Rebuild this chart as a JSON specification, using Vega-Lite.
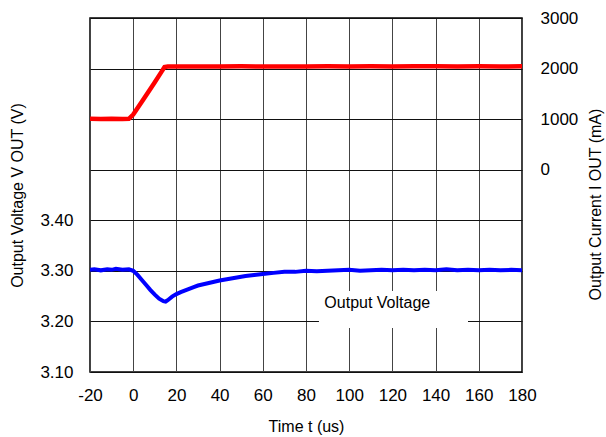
{
  "$schema": "https://vega.github.io/schema/vega-lite/v6.json",
  "width": 432,
  "height": 354,
  "autosize": "none",
  "padding": {"left": 90, "top": 18, "right": 84, "bottom": 65},
  "background": "white",
  "config": {
    "font": "Liberation Sans",
    "view": {"stroke": "#000", "strokeWidth": 1.5},
    "axis": {"labelColor": "#000", "titleColor": "#000", "labelFontSize": 17, "titleFontSize": 16, "titleFontWeight": "normal", "domain": false, "ticks": false, "gridColor": "#111", "gridOpacity": 1, "gridWidth": 1, "labelFlush": false, "labelOverlap": false}
  },
  "datasets": {
    "voltage": [
      {"t": -20, "v": 3.302}, {"t": -18, "v": 3.303}, {"t": -15, "v": 3.301}, {"t": -12, "v": 3.303},
      {"t": -10, "v": 3.302}, {"t": -8, "v": 3.304}, {"t": -5, "v": 3.302}, {"t": -2, "v": 3.303},
      {"t": 0, "v": 3.300}, {"t": 2, "v": 3.292}, {"t": 4, "v": 3.282}, {"t": 6, "v": 3.272},
      {"t": 8, "v": 3.262}, {"t": 10, "v": 3.253}, {"t": 12, "v": 3.245}, {"t": 14, "v": 3.240},
      {"t": 15, "v": 3.239}, {"t": 16, "v": 3.242}, {"t": 18, "v": 3.249}, {"t": 20, "v": 3.254},
      {"t": 22, "v": 3.258}, {"t": 25, "v": 3.263}, {"t": 28, "v": 3.268}, {"t": 30, "v": 3.271},
      {"t": 33, "v": 3.274}, {"t": 36, "v": 3.277}, {"t": 40, "v": 3.281}, {"t": 44, "v": 3.284},
      {"t": 48, "v": 3.287}, {"t": 52, "v": 3.290}, {"t": 56, "v": 3.292}, {"t": 60, "v": 3.294},
      {"t": 65, "v": 3.296}, {"t": 70, "v": 3.298}, {"t": 75, "v": 3.298}, {"t": 80, "v": 3.300},
      {"t": 85, "v": 3.299}, {"t": 90, "v": 3.300}, {"t": 95, "v": 3.301}, {"t": 100, "v": 3.302},
      {"t": 105, "v": 3.300}, {"t": 110, "v": 3.301}, {"t": 115, "v": 3.302}, {"t": 120, "v": 3.301},
      {"t": 125, "v": 3.302}, {"t": 130, "v": 3.301}, {"t": 135, "v": 3.302}, {"t": 140, "v": 3.301},
      {"t": 145, "v": 3.303}, {"t": 150, "v": 3.301}, {"t": 155, "v": 3.302}, {"t": 160, "v": 3.301},
      {"t": 165, "v": 3.302}, {"t": 170, "v": 3.301}, {"t": 175, "v": 3.302}, {"t": 180, "v": 3.301}
    ],
    "current": [
      {"t": -20, "i": 1010}, {"t": -15, "i": 1005}, {"t": -10, "i": 1008}, {"t": -5, "i": 1004},
      {"t": -2, "i": 1006}, {"t": 0, "i": 1090}, {"t": 5, "i": 1410}, {"t": 10, "i": 1730},
      {"t": 13, "i": 1930}, {"t": 14.5, "i": 2030}, {"t": 16, "i": 2042}, {"t": 20, "i": 2040},
      {"t": 30, "i": 2043}, {"t": 40, "i": 2041}, {"t": 50, "i": 2044}, {"t": 60, "i": 2042},
      {"t": 70, "i": 2043}, {"t": 80, "i": 2041}, {"t": 90, "i": 2044}, {"t": 100, "i": 2042},
      {"t": 110, "i": 2045}, {"t": 120, "i": 2043}, {"t": 130, "i": 2044}, {"t": 140, "i": 2046},
      {"t": 150, "i": 2043}, {"t": 160, "i": 2044}, {"t": 170, "i": 2042}, {"t": 180, "i": 2044}
    ],
    "note": [{"label": "Output Voltage"}]
  },
  "resolve": {"scale": {"y": "independent"}},
  "layer": [
    {
      "layer": [
        {
          "data": {"name": "voltage"},
          "mark": {"type": "line", "color": "#0000ff", "strokeWidth": 4, "clip": true},
          "encoding": {
            "x": {"field": "t", "type": "quantitative", "scale": {"domain": [-20, 180], "nice": false},
              "axis": {"orient": "bottom", "values": [-20, 0, 20, 40, 60, 80, 100, 120, 140, 160, 180], "labelExpr": "datum.value < 0 ? '-' + abs(datum.value) : '' + datum.value", "grid": true, "gridColor": "#444", "title": "Time t (us)", "labelPadding": 15, "titlePadding": 15}},
            "y": {"field": "v", "type": "quantitative", "scale": {"domain": [3.1, 3.8], "nice": false, "zero": false},
              "axis": {"orient": "left", "values": [3.1, 3.2, 3.3, 3.4], "format": ".2f", "grid": false, "title": "Output Voltage V  OUT (V)", "labelPadding": 17, "titlePadding": 14}}
          }
        },
        {
          "data": {"name": "note"},
          "mark": {"type": "rect", "color": "white"},
          "encoding": {
            "x": {"datum": 86, "type": "quantitative"},
            "x2": {"datum": 155},
            "y": {"datum": 3.187, "type": "quantitative"},
            "y2": {"datum": 3.26}
          }
        },
        {
          "data": {"name": "note"},
          "mark": {"type": "text", "fontSize": 16, "color": "#000", "align": "center", "baseline": "middle"},
          "encoding": {
            "x": {"datum": 113, "type": "quantitative"},
            "y": {"datum": 3.236, "type": "quantitative"},
            "text": {"field": "label"}
          }
        }
      ]
    },
    {
      "data": {"name": "current"},
      "mark": {"type": "line", "color": "#ff0000", "strokeWidth": 4.5, "clip": true},
      "encoding": {
        "x": {"field": "t", "type": "quantitative"},
        "y": {"field": "i", "type": "quantitative", "scale": {"domain": [-4000, 3000], "nice": false, "zero": false},
          "axis": {"orient": "right", "values": [-4000, -3000, -2000, -1000, 0, 1000, 2000, 3000], "labelExpr": "datum.value >= 0 ? datum.label : ''", "format": "d", "grid": true, "title": "Output Current I  OUT (mA)", "titleAngle": 270, "titleBaseline": "top", "titleY": 186, "labelPadding": 18, "titlePadding": 10}}
      }
    }
  ]
}
